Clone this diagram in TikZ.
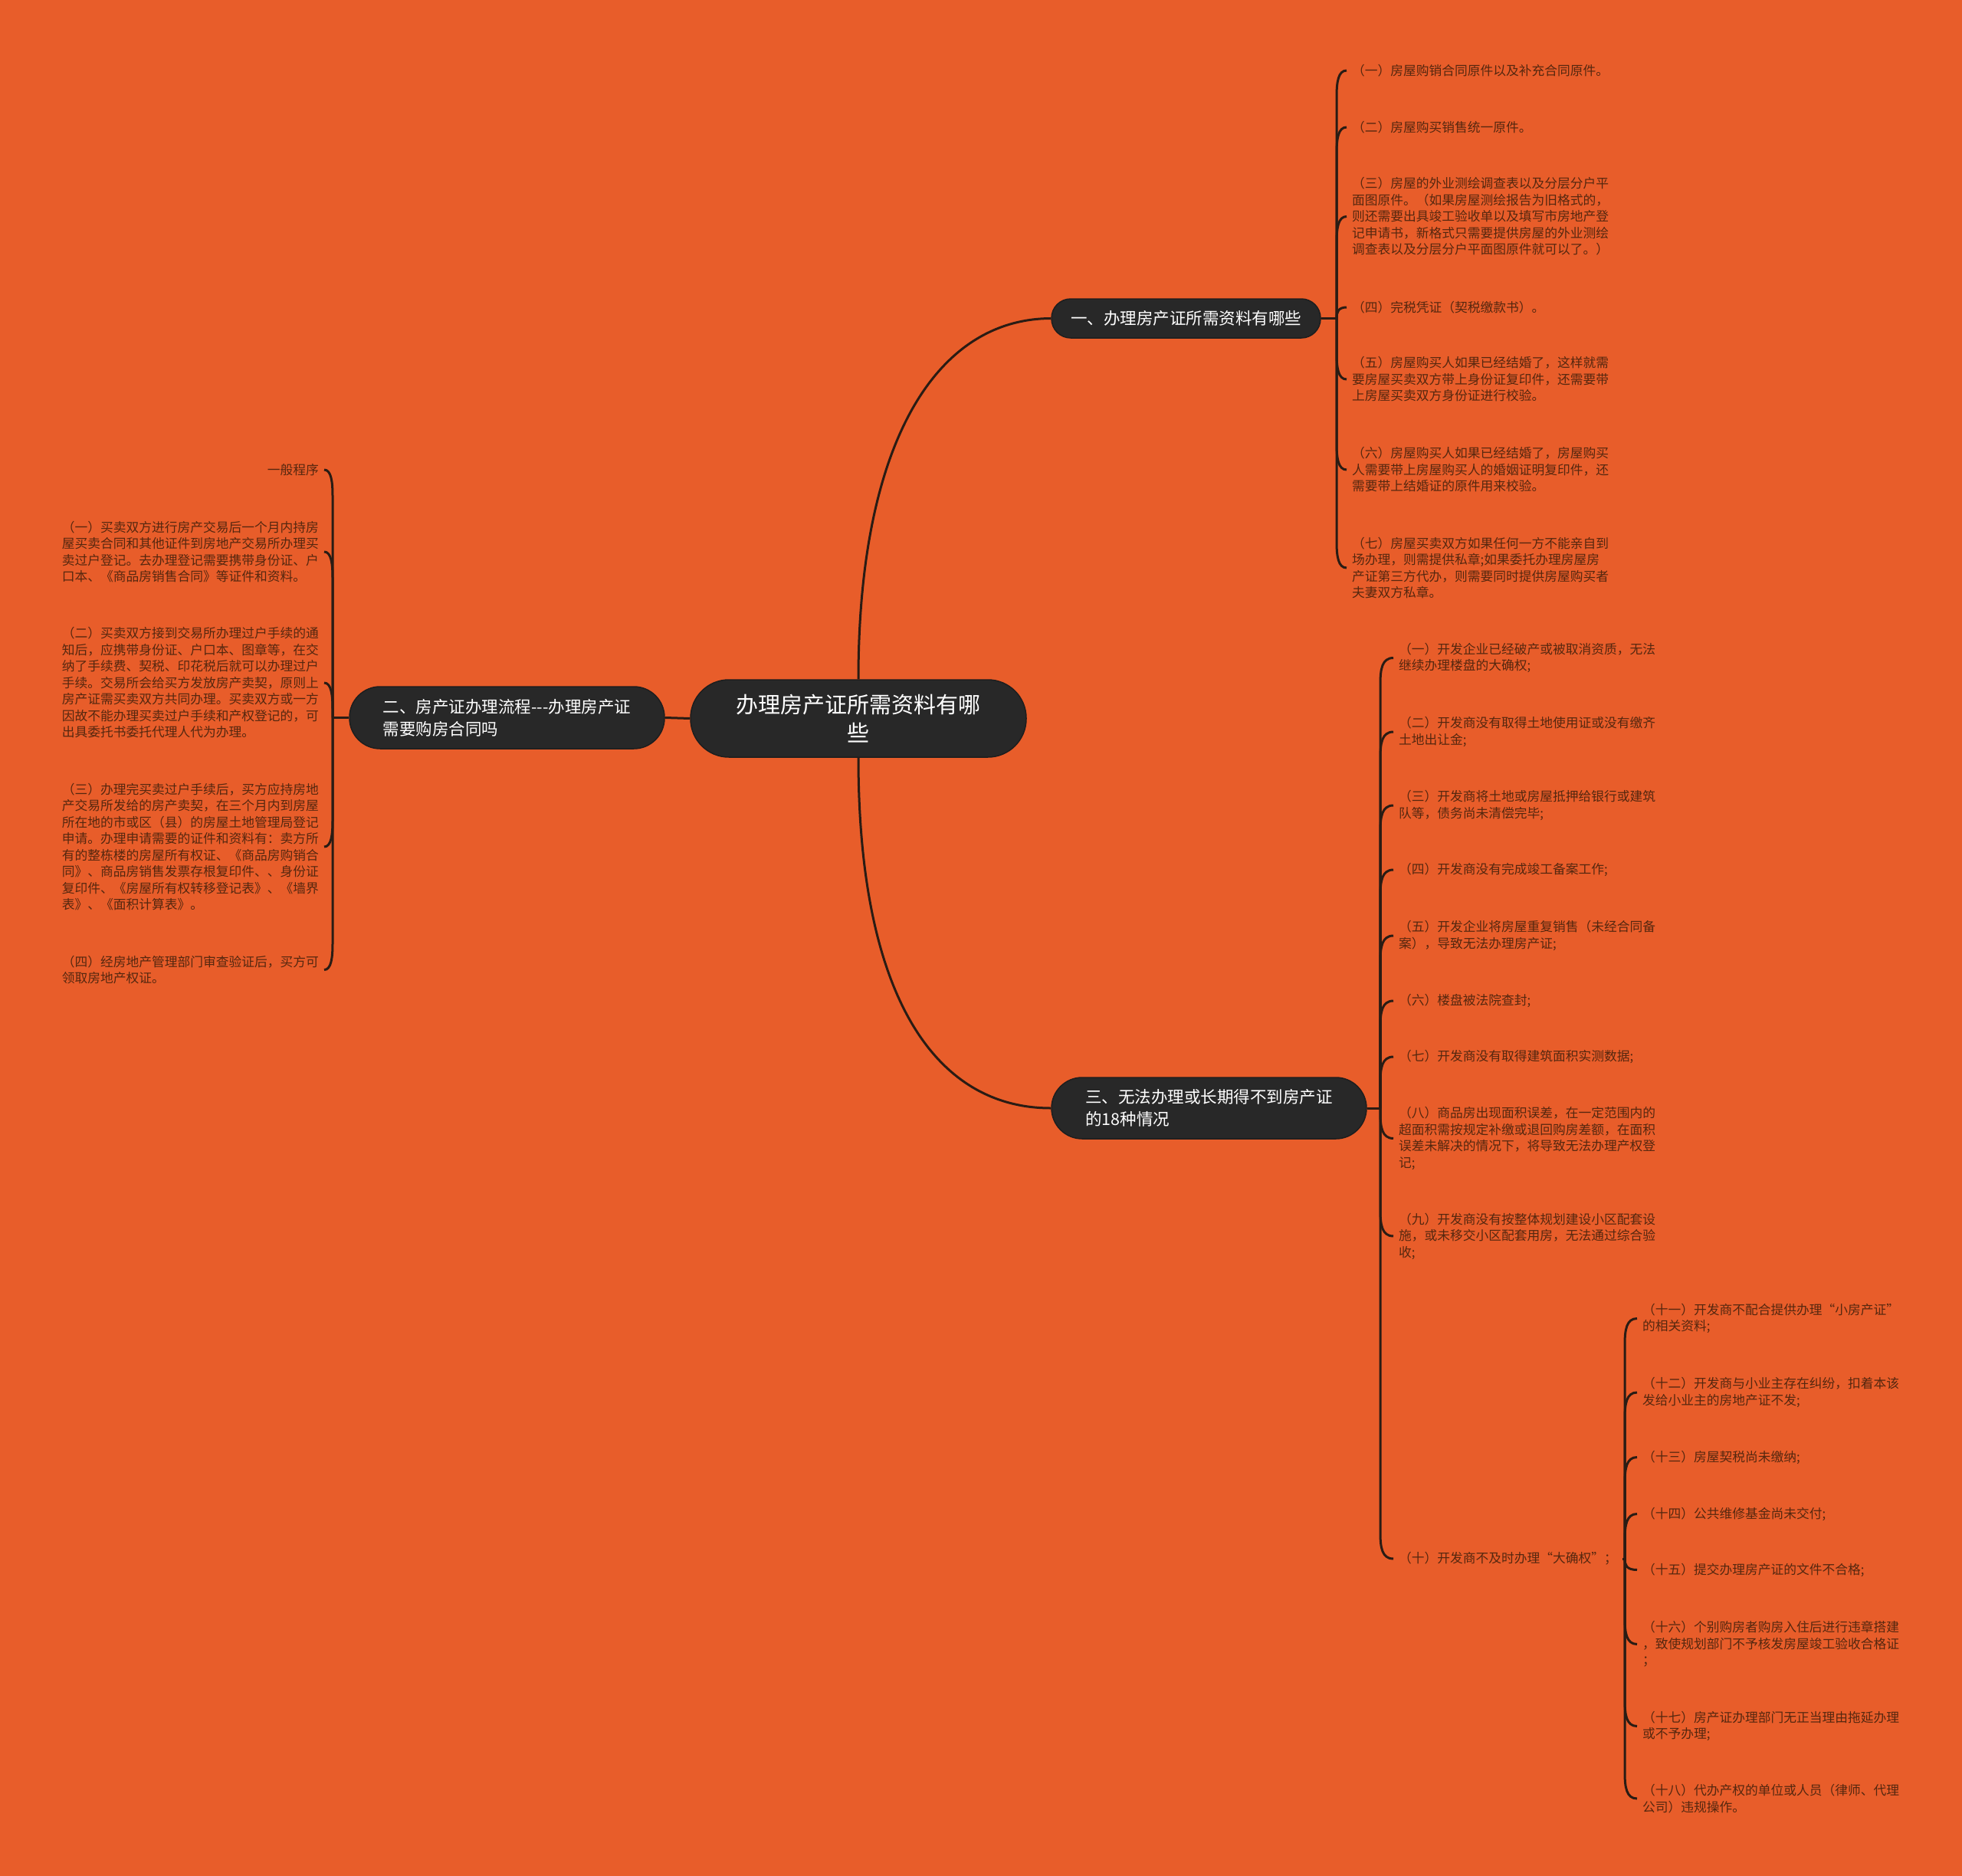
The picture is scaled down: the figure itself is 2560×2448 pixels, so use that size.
\documentclass[tikz,border=0pt]{standalone}
\usepackage{fontspec}
\setmainfont{Noto Sans CJK SC}
\usetikzlibrary{calc}
\definecolor{bgcol}{HTML}{E85D2A}
\definecolor{nodefill}{HTML}{282828}
\definecolor{nodeline}{HTML}{1E1E1E}
\definecolor{conncol}{HTML}{2A1C14}
\definecolor{leaftext}{HTML}{55270F}
\newcommand\myleaffont{\fontsize{16.75}{21.5}\selectfont}
\newcommand\mytopicfont{\fontsize{21.5}{29}\selectfont}
\newcommand\myrootfont{\fontsize{29}{37.6}\selectfont}
\tikzset{
  conn/.style={draw=conncol, line width=3pt},
  topic/.style={fill=nodefill, draw=nodeline, line width=1.5pt, text=white, align=left, inner sep=0pt, font=\mytopicfont},
  leafR/.style={anchor=west, inner xsep=7pt, inner ysep=0pt, text=leaftext, align=left, font=\myleaffont},
  leafL/.style={anchor=east, inner xsep=7pt, inner ysep=0pt, text=leaftext, align=left, font=\myleaffont},
}
% connector from a spine point (#1) to the west side of leaf #2
\newcommand\hookR[2]{%
  \draw[conn] let \p1=(#1), \p2=(#2.west), \n1={\y2-\y1}, \n2={min(abs(\n1),34pt)*sign(\n1)} in
    (\x1,\y1) -- (\x1,\y2-\n2) .. controls (\x1,\y2-0.45*\n2) and (\x1+2pt,\y2) .. (\x2,\y2);}
% connector from a spine point (#1) to the east side of leaf #2
\newcommand\hookL[2]{%
  \draw[conn] let \p1=(#1), \p2=(#2.east), \n1={\y2-\y1}, \n2={min(abs(\n1),34pt)*sign(\n1)} in
    (\x1,\y1) -- (\x1,\y2-\n2) .. controls (\x1,\y2-0.45*\n2) and (\x1-2pt,\y2) .. (\x2,\y2);}
\begin{document}
\begin{tikzpicture}[x=1pt,y=-1pt]
\useasboundingbox (0,0) rectangle (2560,2448);
\fill[bgcol] (0,0) rectangle (2560,2448);

% root and topics
\node[topic, align=center, font=\myrootfont, minimum width=438pt, minimum height=101pt, rounded corners=50pt] (root) at (1120,937.5) {办理房产证所需资料有哪\\些};
\node[topic, minimum width=351pt, minimum height=51pt, rounded corners=25pt] (b1) at (1547.5,415.5) {一、办理房产证所需资料有哪些};
\node[topic, minimum width=411pt, minimum height=81pt, rounded corners=40pt] (b2) at (661.5,936.5) {二、房产证办理流程\mbox{-}\mbox{-}\mbox{-}办理房产证\\需要购房合同吗};
\node[topic, minimum width=411pt, minimum height=80pt, rounded corners=40pt] (b3) at (1577.5,1446) {三、无法办理或长期得不到房产证\\的18种情况};

% spine points
\coordinate (sp1) at (1744,415.5);
\coordinate (sp2) at (434,936.5);
\coordinate (sp3) at (1801,1446);
\coordinate (sp4) at (2120,2034);

% branch 1 leaves
\node[leafR] (l11) at (1757,92) {（一）房屋购销合同原件以及补充合同原件。};
\node[leafR] (l12) at (1757,166) {（二）房屋购买销售统一原件。};
\node[leafR] (l13) at (1757,282.5) {（三）房屋的外业测绘调查表以及分层分户平\\面图原件。（如果房屋测绘报告为旧格式的，\\则还需要出具竣工验收单以及填写市房地产登\\记申请书，新格式只需要提供房屋的外业测绘\\调查表以及分层分户平面图原件就可以了。）};
\node[leafR] (l14) at (1757,401) {（四）完税凭证（契税缴款书）。};
\node[leafR] (l15) at (1757,495) {（五）房屋购买人如果已经结婚了，这样就需\\要房屋买卖双方带上身份证复印件，还需要带\\上房屋买卖双方身份证进行校验。};
\node[leafR] (l16) at (1757,613) {（六）房屋购买人如果已经结婚了，房屋购买\\人需要带上房屋购买人的婚姻证明复印件，还\\需要带上结婚证的原件用来校验。};
\node[leafR] (l17) at (1757,741) {（七）房屋买卖双方如果任何一方不能亲自到\\场办理，则需提供私章;如果委托办理房屋房\\产证第三方代办，则需要同时提供房屋购买者\\夫妻双方私章。};

% branch 2 leaves
\node[leafL] (l21) at (423,613) {一般程序};
\node[leafL] (l22) at (423,720) {（一）买卖双方进行房产交易后一个月内持房\\屋买卖合同和其他证件到房地产交易所办理买\\卖过户登记。去办理登记需要携带身份证、户\\口本、《商品房销售合同》等证件和资料。};
\node[leafL] (l23) at (423,891) {（二）买卖双方接到交易所办理过户手续的通\\知后，应携带身份证、户口本、图章等，在交\\纳了手续费、契税、印花税后就可以办理过户\\手续。交易所会给买方发放房产卖契，原则上\\房产证需买卖双方共同办理。买卖双方或一方\\因故不能办理买卖过户手续和产权登记的，可\\出具委托书委托代理人代为办理。};
\node[leafL] (l24) at (423,1105) {（三）办理完买卖过户手续后，买方应持房地\\产交易所发给的房产卖契，在三个月内到房屋\\所在地的市或区（县）的房屋土地管理局登记\\申请。办理申请需要的证件和资料有：卖方所\\有的整栋楼的房屋所有权证、《商品房购销合\\同》、商品房销售发票存根复印件、、身份证\\复印件、《房屋所有权转移登记表》、《墙界\\表》、《面积计算表》。};
\node[leafL] (l25) at (423,1265.5) {（四）经房地产管理部门审查验证后，买方可\\领取房地产权证。};

% branch 3 leaves
\node[leafR] (l31) at (1818,858.5) {（一）开发企业已经破产或被取消资质，无法\\继续办理楼盘的大确权;};
\node[leafR] (l32) at (1818,955) {（二）开发商没有取得土地使用证或没有缴齐\\土地出让金;};
\node[leafR] (l33) at (1818,1051) {（三）开发商将土地或房屋抵押给银行或建筑\\队等，债务尚未清偿完毕;};
\node[leafR] (l34) at (1818,1135) {（四）开发商没有完成竣工备案工作;};
\node[leafR] (l35) at (1818,1221) {（五）开发企业将房屋重复销售（未经合同备\\案），导致无法办理房产证;};
\node[leafR] (l36) at (1818,1306) {（六）楼盘被法院查封;};
\node[leafR] (l37) at (1818,1379) {（七）开发商没有取得建筑面积实测数据;};
\node[leafR] (l38) at (1818,1485.5) {（八）商品房出现面积误差，在一定范围内的\\超面积需按规定补缴或退回购房差额，在面积\\误差未解决的情况下，将导致无法办理产权登\\记;};
\node[leafR] (l39) at (1818,1613) {（九）开发商没有按整体规划建设小区配套设\\施，或未移交小区配套用房，无法通过综合验\\收;};
\node[leafR] (l310) at (1818,2034) {（十）开发商不及时办理“大确权”；};

% sub leaves of (十)
\node[leafR] (s11) at (2136,1720.5) {（十一）开发商不配合提供办理“小房产证”\\的相关资料;};
\node[leafR] (s12) at (2136,1817) {（十二）开发商与小业主存在纠纷，扣着本该\\发给小业主的房地产证不发;};
\node[leafR] (s13) at (2136,1901.5) {（十三）房屋契税尚未缴纳;};
\node[leafR] (s14) at (2136,1975.5) {（十四）公共维修基金尚未交付;};
\node[leafR] (s15) at (2136,2048.5) {（十五）提交办理房产证的文件不合格;};
\node[leafR] (s16) at (2136,2145.5) {（十六）个别购房者购房入住后进行违章搭建\\，致使规划部门不予核发房屋竣工验收合格证\\；};
\node[leafR] (s17) at (2136,2252.5) {（十七）房产证办理部门无正当理由拖延办理\\或不予办理;};
\node[leafR] (s18) at (2136,2347) {（十八）代办产权的单位或人员（律师、代理\\公司）违规操作。};

% root connectors
\draw[conn] (root.north) .. controls (1120,580) and (1220,416) .. (b1.west);
\draw[conn] (root.south) .. controls (1120,1300) and (1220,1446) .. (b3.west);
\draw[conn] (root.west) -- (b2.east);

% stubs from topics to spines
\draw[conn] (b1.east) -- (sp1);
\draw[conn] (b2.west) -- (sp2);
\draw[conn] (b3.east) -- (sp3);
\draw[conn] (l310.east) -- (sp4);

% leaf connectors
\foreach \lf in {l11,l12,l13,l14,l15,l16,l17}{\hookR{sp1}{\lf}}
\foreach \lf in {l21,l22,l23,l24,l25}{\hookL{sp2}{\lf}}
\foreach \lf in {l31,l32,l33,l34,l35,l36,l37,l38,l39,l310}{\hookR{sp3}{\lf}}
\foreach \lf in {s11,s12,s13,s14,s15,s16,s17,s18}{\hookR{sp4}{\lf}}
\end{tikzpicture}
\end{document}
